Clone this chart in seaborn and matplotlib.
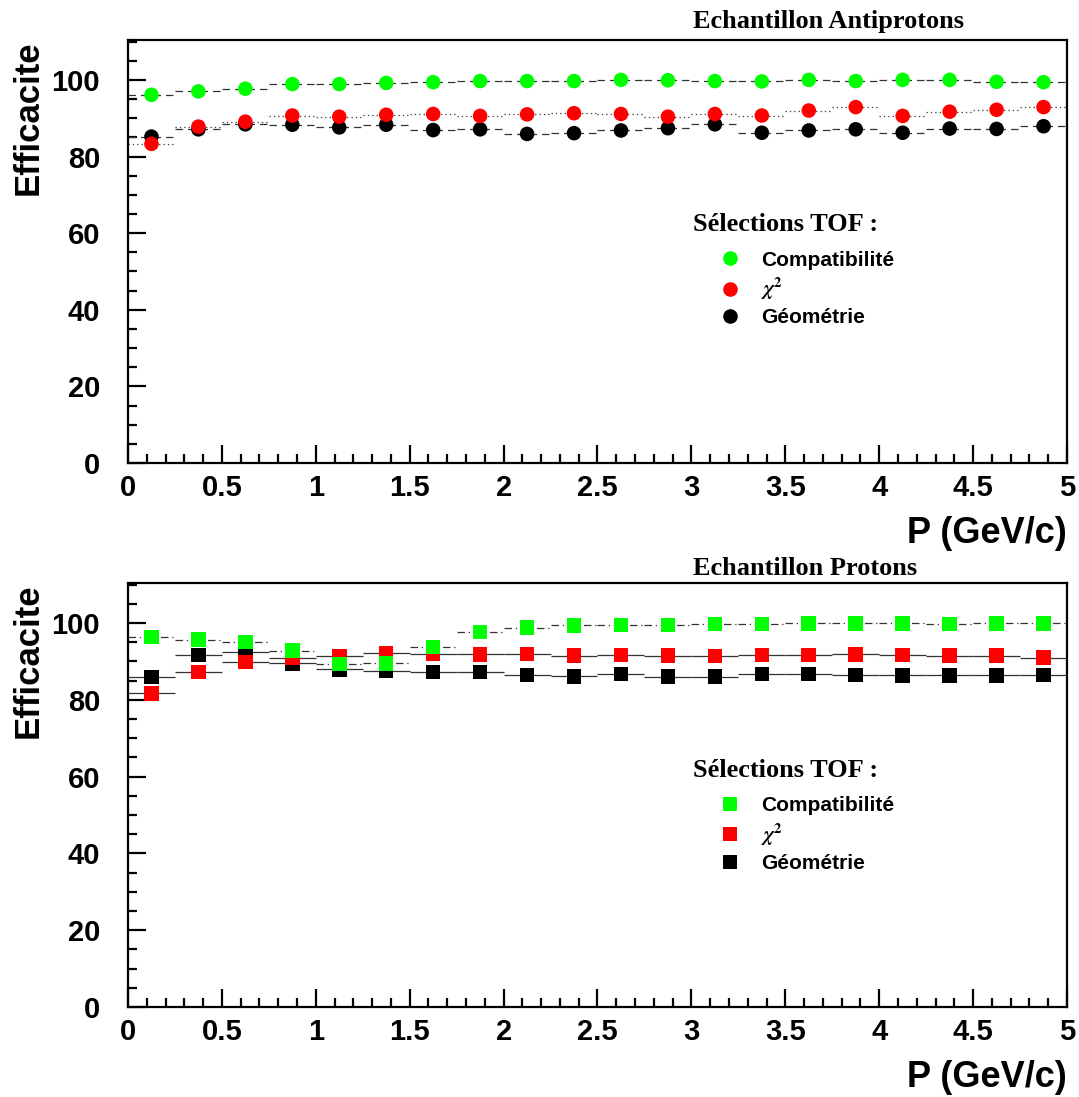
import numpy as np
import pandas as pd
import matplotlib
matplotlib.use("Agg")
import matplotlib.pyplot as plt
import matplotlib.ticker as mticker
from matplotlib.lines import Line2D
import seaborn as sns

# centres des bins en P (GeV/c), demi-largeur 0.125
p = [0.125, 0.375, 0.625, 0.875, 1.125, 1.375, 1.625, 1.875, 2.125, 2.375,
     2.625, 2.875, 3.125, 3.375, 3.625, 3.875, 4.125, 4.375, 4.625, 4.875]
bin_half = 0.125

# echantillon antiprotons
compat_ap = [96.1, 97.0, 97.7, 98.9, 98.9, 99.2, 99.4, 99.7, 99.7, 99.7,
             100.0, 99.9, 99.7, 99.6, 100.0, 99.7, 100.0, 100.0, 99.5, 99.4]
chi2_ap = [83.3, 87.8, 89.1, 90.7, 90.4, 90.9, 91.1, 90.6, 91.0, 91.3,
           91.1, 90.4, 91.1, 90.7, 92.0, 92.9, 90.6, 91.7, 92.2, 92.9]
geom_ap = [85.2, 87.1, 88.4, 88.3, 87.6, 88.3, 86.9, 87.1, 85.9, 86.1,
           86.8, 87.4, 88.4, 86.2, 86.8, 87.1, 86.2, 87.3, 87.2, 87.9]

# echantillon protons
compat_p = [96.4, 95.7, 95.1, 92.8, 89.3, 89.5, 93.8, 97.7, 98.8, 99.4,
            99.5, 99.5, 99.7, 99.7, 99.9, 99.9, 99.9, 99.7, 99.9, 99.9]
chi2_p = [81.7, 87.2, 89.9, 91.0, 91.4, 92.1, 91.9, 91.8, 91.9, 91.5,
          91.7, 91.5, 91.4, 91.7, 91.7, 91.8, 91.7, 91.5, 91.5, 91.0]
geom_p = [85.9, 91.7, 92.5, 89.5, 87.9, 87.5, 87.2, 87.2, 86.5, 86.1,
          86.7, 86.0, 86.0, 86.7, 86.7, 86.5, 86.4, 86.4, 86.4, 86.5]

lab_compat = "Compatibilité"
lab_chi2 = r"$\chi^{\mathbf{2}}$"
lab_geom = "Géométrie"
couleurs = {lab_compat: "#00ff00", lab_chi2: "#ff0000", lab_geom: "#000000"}

sns.set_style("ticks")
plt.rcParams["font.family"] = ["Liberation Sans", "DejaVu Sans"]
plt.rcParams["font.weight"] = "bold"
plt.rcParams["mathtext.fontset"] = "stix"
for k in ["text.color", "axes.labelcolor", "xtick.color", "ytick.color", "axes.edgecolor"]:
    plt.rcParams[k] = "black"
plt.rcParams["axes.linewidth"] = 1.6
plt.rcParams["xtick.direction"] = "in"
plt.rcParams["ytick.direction"] = "in"

fig = plt.figure(figsize=(10.79, 10.97), dpi=100)
ax1 = fig.add_axes([0.1186, 0.5779, 0.8703, 0.3856])
ax2 = fig.add_axes([0.1186, 0.0820, 0.8703, 0.3865])


def panneau(ax, series, marker, styles, titre, y_titre, y_entete, y_leg):
    # segments horizontaux (largeur du bin)
    for lab, ls in styles.items():
        eb = ax.errorbar(p, series[lab], xerr=bin_half, fmt="none",
                         ecolor="0.2", elinewidth=0.9, zorder=1)
        eb[2][0].set_linestyle(ls)
    # ordre de dessin : noir, rouge, vert
    df = pd.concat([pd.DataFrame({"P": p, "eff": series[lab], "sel": lab})
                    for lab in [lab_geom, lab_chi2, lab_compat]])
    sns.scatterplot(data=df, x="P", y="eff", hue="sel", palette=couleurs,
                    marker=marker, s=110, linewidth=0, legend=False,
                    ax=ax, zorder=3)

    ax.set_xlim(0, 5)
    ax.set_ylim(0, 110.4)
    ax.xaxis.set_major_locator(mticker.MultipleLocator(0.5))
    ax.xaxis.set_minor_locator(mticker.MultipleLocator(0.1))
    ax.yaxis.set_major_locator(mticker.MultipleLocator(20))
    ax.yaxis.set_minor_locator(mticker.MultipleLocator(5))
    ax.xaxis.set_major_formatter(mticker.FormatStrFormatter("%g"))
    ax.tick_params(which="both", top=False, right=False, width=1.6)
    ax.tick_params(which="major", length=13)
    ax.tick_params(which="minor", length=6.5)
    ax.tick_params(axis="x", labelsize=21, pad=8)
    ax.tick_params(axis="y", labelsize=21, pad=20)
    for lbl in ax.get_xticklabels() + ax.get_yticklabels():
        lbl.set_fontweight("bold")

    ax.set_xlabel("P (GeV/c)", fontsize=26, fontweight="bold", loc="right")
    ax.xaxis.set_label_coords(1.0, -0.125)
    ax.set_ylabel("Efficacite", fontsize=25, fontweight="bold", loc="top")
    ax.yaxis.set_label_coords(-0.089, 1.0)

    ax.text(0.602, y_titre, titre, transform=ax.transAxes,
            family="Liberation Serif", fontweight="bold", fontsize=19,
            va="center", ha="left")
    ax.text(0.602, y_entete, "Sélections TOF :", transform=ax.transAxes,
            family="Liberation Serif", fontweight="bold", fontsize=19,
            va="center", ha="left")

    poignees = [Line2D([], [], marker=marker, linestyle="none", markersize=10.5,
                       markeredgewidth=0, color=couleurs[lab])
                for lab in [lab_compat, lab_chi2, lab_geom]]
    ax.legend(poignees, [lab_compat, lab_chi2, lab_geom],
              loc="upper left", bbox_to_anchor=(0.602, y_leg),
              frameon=False, borderpad=0, borderaxespad=0, handlelength=3.5,
              handletextpad=-0.25, labelspacing=0.3,
              prop={"family": "Liberation Sans", "weight": "bold", "size": 15})


panneau(ax1, {lab_compat: compat_ap, lab_chi2: chi2_ap, lab_geom: geom_ap}, "o",
        {lab_compat: (0, (6, 4)), lab_chi2: (0, (1, 2.5)), lab_geom: (0, (6, 4))},
        "Echantillon Antiprotons", 1.043, 0.563, 0.502)
panneau(ax2, {lab_compat: compat_p, lab_chi2: chi2_p, lab_geom: geom_p}, "s",
        {lab_compat: (0, (6, 3, 1, 3)), lab_chi2: "-", lab_geom: "-"},
        "Echantillon Protons", 1.035, 0.557, 0.497)

fig.savefig("out.png", dpi=100, facecolor="white")
